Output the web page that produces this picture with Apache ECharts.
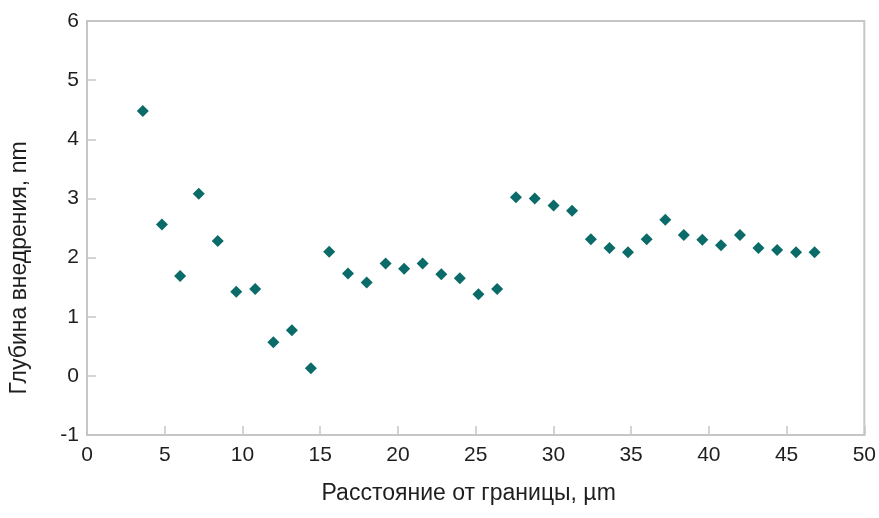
<!DOCTYPE html>
<html>
<head>
<meta charset="utf-8">
<script src="https://cdn.jsdelivr.net/npm/echarts@6/dist/echarts.min.js"></script>
<style>
html,body{margin:0;padding:0;background:#fff;}
#chart{width:879px;height:518px;}
</style>
</head>
<body>
<div id="chart"></div>
<script>
const distances = [3.59, 4.82, 5.99, 7.19, 8.41, 9.60, 10.82, 11.99, 13.18, 14.40,
  15.58, 16.79, 17.99, 19.21, 20.40, 21.59, 22.79, 23.98, 25.18, 26.38,
  27.59, 28.80, 30.01, 31.20, 32.41, 33.61, 34.80, 36.00, 37.20, 38.39,
  39.58, 40.78, 42.00, 43.19, 44.39, 45.61, 46.80];
const depths = [4.48, 2.56, 1.69, 3.08, 2.28, 1.42, 1.47, 0.57, 0.77, 0.13,
  2.10, 1.73, 1.58, 1.90, 1.81, 1.90, 1.72, 1.65, 1.38, 1.47,
  3.02, 3.00, 2.88, 2.79, 2.31, 2.16, 2.09, 2.31, 2.64, 2.38,
  2.30, 2.21, 2.38, 2.16, 2.13, 2.09, 2.09];
const xTicks = [0, 5, 10, 15, 20, 25, 30, 35, 40, 45, 50];
const yTicks = [-1, 0, 1, 2, 3, 4, 5, 6];
const xTitle = 'Расстояние от границы, µm';
const yTitle = 'Глубина внедрения, nm';

const points = distances.map((d, i) => [d, depths[i]]);
const axisGray = '#c6c6c6';
const textColor = '#1e1e1e';
const font = 'Liberation Sans, Arial, sans-serif';

const chart = echarts.init(document.getElementById('chart'), null, {renderer: 'canvas'});
chart.setOption({
  animation: false,
  backgroundColor: '#fff',
  grid: {left: 87, right: 11, top: 21, bottom: 83, show: true, borderColor: axisGray, borderWidth: 2, containLabel: false},
  xAxis: {
    type: 'value', min: xTicks[0], max: xTicks[xTicks.length - 1], interval: 5,
    name: xTitle, nameLocation: 'middle', nameGap: 47,
    nameTextStyle: {fontFamily: font, fontSize: 23, color: textColor, padding: [0, 14, 0, 0]},
    axisLine: {show: true, onZero: false, lineStyle: {color: axisGray, width: 2}},
    axisTick: {show: true, inside: true, length: 9, lineStyle: {color: axisGray, width: 1.5}},
    axisLabel: {fontFamily: font, fontSize: 21, color: textColor, margin: 10},
    splitLine: {show: false}
  },
  yAxis: {
    type: 'value', min: yTicks[0], max: yTicks[yTicks.length - 1], interval: 1,
    name: yTitle, nameLocation: 'middle', nameGap: 56,
    nameTextStyle: {fontFamily: font, fontSize: 23, color: textColor, padding: [0, 80, 0, 0]},
    axisLine: {show: true, onZero: false, lineStyle: {color: axisGray, width: 2}},
    axisTick: {show: true, inside: true, length: 9, lineStyle: {color: axisGray, width: 1.5}},
    axisLabel: {fontFamily: font, fontSize: 21, color: textColor, margin: 8},
    splitLine: {show: false}
  },
  series: [{
    type: 'scatter',
    data: points,
    symbol: 'diamond',
    symbolSize: [12, 12],
    itemStyle: {color: '#0a6b68', opacity: 1}
  }]
});
</script>
</body>
</html>
